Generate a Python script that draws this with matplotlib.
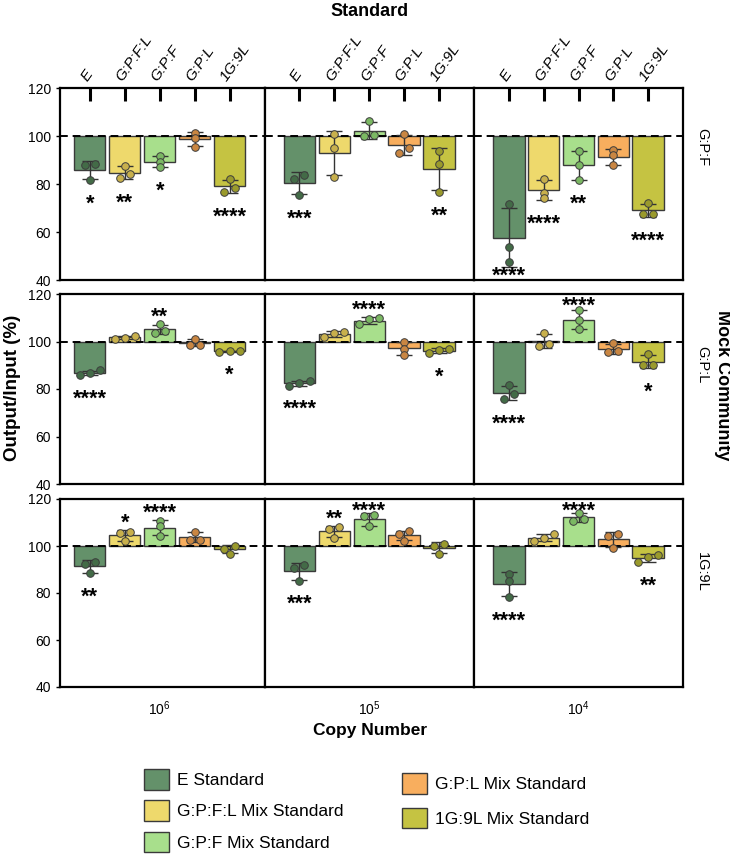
import numpy as np
import matplotlib
matplotlib.use('Agg')
import matplotlib.pyplot as plt
from matplotlib.patches import Patch

plt.rcParams['font.family'] = ['Liberation Sans', 'DejaVu Sans']

# Standards (bars) and their colours
standards = ['E', 'G:P:F:L', 'G:P:F', 'G:P:L', '1G:9L']
legend_names = ['E Standard', 'G:P:F:L Mix Standard', 'G:P:F Mix Standard',
                'G:P:L Mix Standard', '1G:9L Mix Standard']
bar_colors = ['#64916a', '#eed96c', '#a8df8c', '#f8ae5e', '#c5c342']
dot_colors = ['#436b47', '#c8b04c', '#7bb863', '#c98642', '#9a9a2c']

copy_numbers = ['$\\mathregular{10^6}$', '$\\mathregular{10^5}$', '$\\mathregular{10^4}$']
mock_names = ['G:P:F', 'G:P:L', '1G:9L']

# Output/Input (%) replicates: [copy number][standard][replicate]
reps_gpf = [
    [[88.2, 87.8, 81.7], [87.5, 82.4, 84.3], [91.7, 89.3, 87.1], [101.4, 99.2, 95.4], [82.0, 78.5, 76.5]],
    [[83.9, 82.2, 75.3], [101.0, 95.0, 83.1], [106.3, 99.8, 100.6], [100.8, 94.9, 93.1], [93.9, 88.2, 76.8]],
    [[71.5, 53.9, 47.7], [82.0, 76.4, 74.0], [93.8, 87.9, 81.7], [94.2, 92.0, 87.8], [72.2, 67.4, 67.4]],
]
reps_gpl = [
    [[86.0, 87.8, 86.8], [101.1, 102.5, 101.6], [107.2, 103.5, 104.6], [98.7, 101.1, 98.7], [95.9, 95.8, 95.7]],
    [[81.4, 83.5, 82.6], [101.8, 104.2, 103.7], [109.8, 109.3, 107.2], [100.0, 97.0, 94.4], [95.2, 97.0, 96.3]],
    [[81.7, 77.8, 75.8], [103.5, 99.0, 97.9], [113.1, 109.2, 105.2], [99.3, 95.4, 95.8], [94.8, 89.9, 89.9]],
]
reps_1g9l = [
    [[93.4, 92.2, 88.3], [106.1, 105.4, 102.0], [110.7, 108.5, 104.4], [106.1, 102.4, 102.4], [100.0, 98.9, 96.7]],
    [[91.9, 90.8, 85.2], [108.1, 107.1, 103.4], [113.1, 112.8, 108.3], [106.2, 105.0, 102.3], [101.0, 100.0, 96.6]],
    [[88.1, 84.9, 78.1], [105.1, 102.1, 103.3], [114.1, 110.6, 111.7], [105.0, 104.4, 99.3], [96.2, 95.2, 93.1]],
]

# significance labels
sig_gpf = [['*', '**', '*', '', '****'], ['***', '', '', '', '**'], ['****', '****', '**', '', '****']]
sig_gpl = [['****', '', '**', '', '*'], ['****', '', '****', '', '*'], ['****', '', '****', '', '*']]
sig_1g9l = [['**', '*', '****', '', ''], ['***', '**', '****', '', ''], ['****', '', '****', '', '**']]

all_reps = [reps_gpf, reps_gpl, reps_1g9l]
all_sig = [sig_gpf, sig_gpl, sig_1g9l]


def swarm_offsets(vals, thr=2.2, step=0.29):
    # spread points that sit at nearly the same height side by side
    vals = np.asarray(vals)
    order = np.argsort(vals)
    offs = np.zeros(len(vals))
    groups = [[order[0]]]
    for i in order[1:]:
        if vals[i] - vals[groups[-1][-1]] < thr:
            groups[-1].append(i)
        else:
            groups.append([i])
    for g in groups:
        n = len(g)
        for k, idx in enumerate(g):
            offs[idx] = (k - (n - 1) / 2) * step
    return offs


W, H = 730, 859
fig = plt.figure(figsize=(W / 100, H / 100), dpi=100)


def px_axes(left, top, w, h):
    return fig.add_axes([left / W, 1 - (top + h) / H, w / W, h / H])


row_boxes = [(88, 192), (294, 190), (499, 188)]
col_boxes = [(60, 204.5), (264.5, 209.5), (474, 209)]
col_xlims = [(-0.85, 5), (-1, 5), (-1, 5)]

x = np.arange(len(standards))
for r in range(3):
    top, h = row_boxes[r]
    for c in range(3):
        ax = px_axes(col_boxes[c][0], top, col_boxes[c][1], h)
        reps = all_reps[r][c]
        sigs = all_sig[r][c]
        means = np.array([np.mean(v) for v in reps])
        sds = np.array([np.std(v, ddof=1) for v in reps])

        ax.bar(x, means - 100, bottom=100, width=0.9, color=bar_colors,
               edgecolor='#3a3a3a', linewidth=1, zorder=2)
        ax.axhline(100, color='black', ls=(0, (4, 2.5)), lw=1.4, zorder=3)
        for i in range(len(standards)):
            ax.errorbar(x[i], means[i], yerr=sds[i], color='#333333', lw=1,
                        capsize=6, capthick=1, zorder=4)
            offs = swarm_offsets(reps[i])
            ax.scatter(x[i] + offs, reps[i], s=30, color=dot_colors[i],
                       edgecolor='#3d3d3d', linewidth=0.7, zorder=5)
            if sigs[i]:
                if means[i] < 100:
                    yref = min(means[i] - sds[i], min(reps[i])) - 8
                    yref = max(yref, 43.5)
                else:
                    yref = max(means[i] + sds[i], max(reps[i])) + 5
                    yref = min(yref, 117)
                ax.annotate(sigs[i], (x[i], yref), xytext=(0, -7.5),
                            textcoords='offset points', ha='center',
                            va='baseline', fontsize=15.5, fontweight='bold',
                            zorder=6)

        ax.set_xlim(*col_xlims[c])
        ax.set_ylim(40, 120)
        for sp in ax.spines.values():
            sp.set_linewidth(1.6)

        if c == 0:
            ax.set_yticks([40, 60, 80, 100, 120])
            ax.tick_params(axis='y', labelsize=10, length=3, width=1)
        else:
            ax.set_yticks([])

        if r == 0:
            ax.set_xticks(x)
            ax.xaxis.tick_top()
            ax.tick_params(axis='x', direction='in', length=9, width=2.2,
                           pad=3)
            ax.set_xticklabels(standards, rotation=55, fontsize=11,
                               style='italic', ha='left',
                               rotation_mode='anchor')
        elif r == 2:
            ax.set_xticks([2])
            ax.set_xticklabels([copy_numbers[c]], fontsize=10)
            ax.tick_params(axis='x', length=0, pad=9)
        else:
            ax.set_xticks([])

fig.text(370 / W, 1 - 12 / H, 'Standard', ha='center', va='center',
         fontsize=13, fontweight='bold')
fig.text(370 / W, 1 - 731 / H, 'Copy Number', ha='center', va='center',
         fontsize=12.5, fontweight='bold')
fig.text(13 / W, 1 - 388 / H, 'Output/Input (%)', ha='center', va='center',
         rotation=90, fontsize=13.5, fontweight='bold')
fig.text(723 / W, 1 - 385 / H, 'Mock Community', ha='center', va='center',
         rotation=-90, fontsize=13, fontweight='bold')
for name, yc in zip(mock_names, [147, 365, 572]):
    fig.text(702 / W, 1 - yc / H, name, ha='center', va='center',
             rotation=-90, fontsize=10.5)

handles = [Patch(facecolor=bar_colors[i], edgecolor='#3a3a3a', linewidth=1)
           for i in range(len(standards))]
leg_kw = dict(frameon=False, fontsize=12.5, handlelength=1.45,
              handleheight=1.45, handletextpad=0.45,
              borderpad=0, borderaxespad=0, loc='upper left')
fig.legend(handles[:3], legend_names[:3], labelspacing=0.62,
           bbox_to_anchor=(144 / W, 1 - 769 / H), **leg_kw)
fig.legend(handles[3:], legend_names[3:], labelspacing=0.8,
           bbox_to_anchor=(402 / W, 1 - 773 / H), **leg_kw)

fig.savefig('out.png', dpi=100)
